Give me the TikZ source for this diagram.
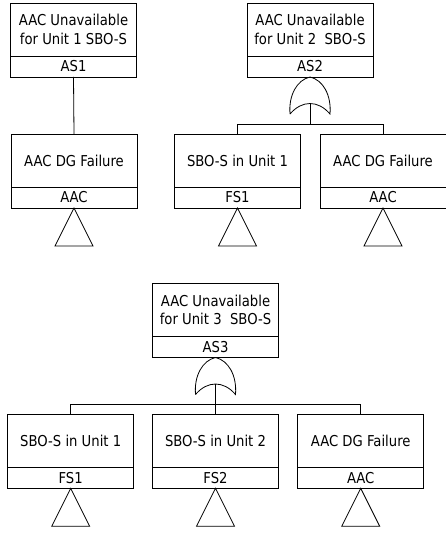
\documentclass[tikz,border=0pt]{standalone}
\usepackage{fontspec}
\setmainfont{DejaVu Sans}[FakeStretch=0.88]
\usetikzlibrary{calc}

% Fault-tree event: description box with its identifier strip below
\newcommand\ftevent[5]{% #1 name, #2 x, #3 top y, #4 description, #5 identifier
  \node[evtext] (#1) at (#2,#3+26.5) {#4};
  \node[evid] (#1-id) at (#1.south) {#5};
}
% Transfer triangle hanging below an event
\newcommand\fttransfer[1]{%
  \draw (#1-id.south) -- ++(19,38) -- ++(-38,0) -- cycle;
}
% OR gate whose apex sits on a named point; its input point is #1-in
\newcommand\ftorgate[2]{%
  \begin{scope}[shift={(#2)}]
    \draw (-20,37) .. controls (-21.5,18) and (-13,3) .. (0,0)
                   .. controls (13,3) and (21.5,18) .. (20,37)
                   .. controls (8,23) and (-8,23) .. (-20,37);
    \coordinate (#1-in) at (0,26.5);
  \end{scope}
}

\begin{document}
\begin{tikzpicture}[x=1pt,y=-1pt,line width=0.8pt,
  evtext/.style={draw,minimum width=126pt,minimum height=53pt,inner sep=0pt,
    outer sep=0pt,align=center,font=\fontsize{15}{18.5}\selectfont},
  evid/.style={draw,minimum width=126pt,minimum height=21pt,inner sep=0pt,
    outer sep=0pt,anchor=north,font=\fontsize{15}{18.5}\selectfont}]
\useasboundingbox (0,0) rectangle (445,534);

% ---- AS1: single input ----
\ftevent{as1}{73.5}{3}{AAC Unavailable\\for Unit 1 SBO-S}{AS1}
\ftevent{aacA}{74}{134}{AAC DG Failure}{AAC}
\fttransfer{aacA}
\draw (as1-id.south) -- (aacA.north);

% ---- AS2: OR of two inputs ----
\ftevent{as2}{310}{3}{AAC Unavailable\\for Unit 2\ \ SBO-S}{AS2}
\ftevent{fs1A}{237.5}{134}{SBO-S in Unit 1}{FS1}
\ftevent{aacB}{383}{134}{AAC DG Failure}{AAC}
\fttransfer{fs1A}
\fttransfer{aacB}
\ftorgate{g2}{as2-id.south}
\coordinate (bus2) at ($(fs1A.north)+(0,-10)$);
\draw (g2-in) -- (g2-in |- bus2);
\draw (fs1A.north) -- (bus2) -- (aacB.north |- bus2) -- (aacB.north);

% ---- AS3: OR of three inputs ----
\ftevent{as3}{215.5}{283.5}{AAC Unavailable\\for Unit 3\ \ SBO-S}{AS3}
\ftevent{fs1B}{70.7}{414.3}{SBO-S in Unit 1}{FS1}
\ftevent{fs2}{215.5}{414.3}{SBO-S in Unit 2}{FS2}
\ftevent{aacC}{360.7}{414.3}{AAC DG Failure}{AAC}
\fttransfer{fs1B}
\fttransfer{fs2}
\fttransfer{aacC}
\ftorgate{g3}{as3-id.south}
\coordinate (bus3) at ($(fs1B.north)+(0,-10)$);
\draw (g3-in) -- (fs2.north);
\draw (fs1B.north) -- (bus3) -- (aacC.north |- bus3) -- (aacC.north);
\end{tikzpicture}
\end{document}
